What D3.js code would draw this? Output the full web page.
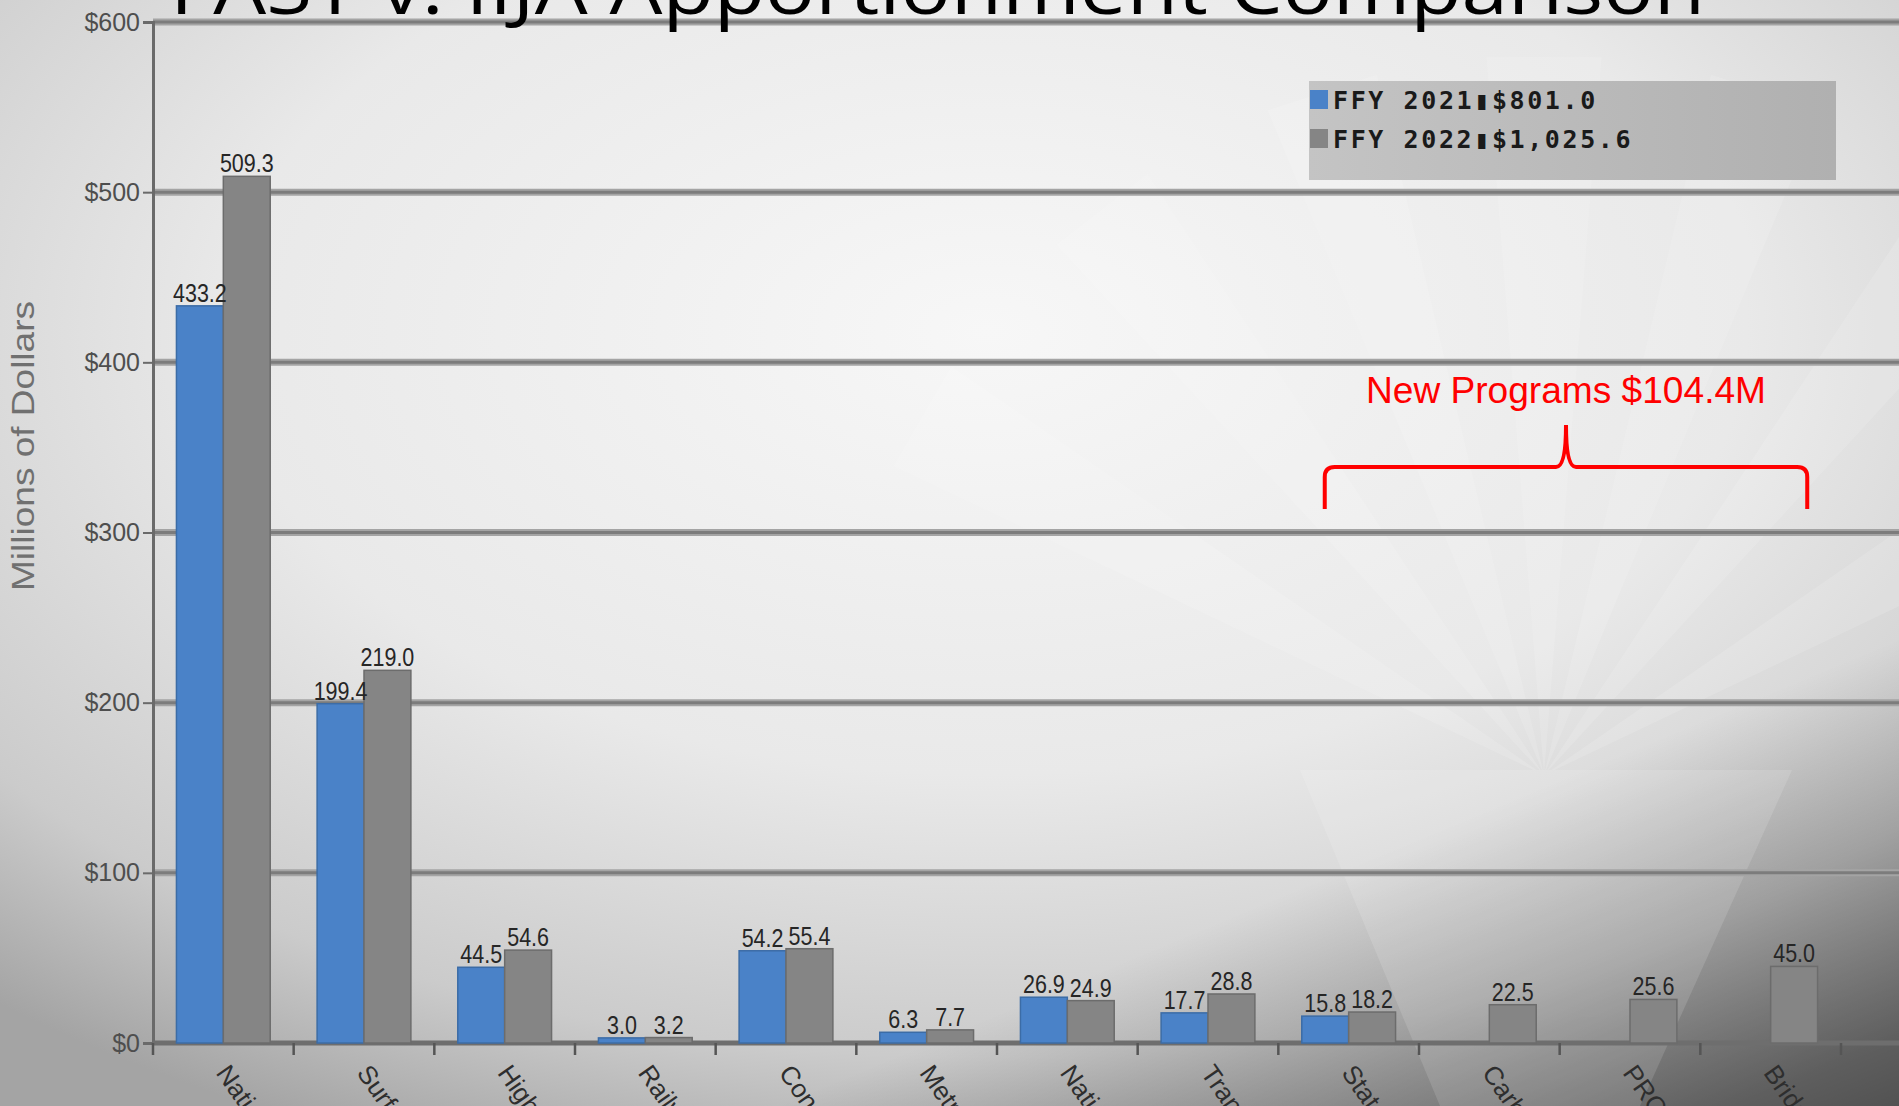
<!DOCTYPE html>
<html>
<head>
<meta charset="utf-8">
<script src="https://cdn.jsdelivr.net/npm/d3@7"></script>
<style>
  html, body { margin: 0; padding: 0; overflow: hidden; background: #ddd; }
  svg { display: block; }
</style>
</head>
<body>
<script>
// Chart data.
var categories = [
  "National Highway Performance", "Surface Transportation Block Grant", "Highway Safety Improvement",
  "Railway-Highway Crossings", "Congestion Mitigation & Air Quality", "Metropolitan Planning",
  "National Highway Freight", "Transportation Alternatives", "State Planning & Research",
  "Carbon Reduction", "PROTECT", "Bridge Formula"
];
var ffy2021 = [433.2, 199.4, 44.5, 3.0, 54.2, 6.3, 26.9, 17.7, 15.8, null, null, null];
var ffy2022 = [509.3, 219.0, 54.6, 3.2, 55.4, 7.7, 24.9, 28.8, 18.2, 22.5, 25.6, 45.0];
var seriesNames = ["FFY 2021", "FFY 2022"];
var seriesTotals = ["$801.0", "$1,025.6"];
var yTicks = [0, 100, 200, 300, 400, 500, 600];
var titleText = "FAST v. IIJA Apportionment Comparison";
var annotationText = "New Programs $104.4M";

(function () {
  var W = 1899, H = 1106;
  var colors = { "FFY 2021": "#4a82c8", "FFY 2022": "#858585" };
  var strokes = { "FFY 2021": "#3c6ca6", "FFY 2022": "#6c6c6c" };
  var sans = "'Liberation Sans', Arial, sans-serif";

  var svg = d3.select("body").append("svg")
    .attr("width", W)
    .attr("height", H);

  // Background gradients.
  var defs = svg.append("defs");
  var rg = defs.append("radialGradient")
    .attr("id", "bg")
    .attr("cx", "0.52").attr("cy", "0.3").attr("r", "0.8");
  rg.append("stop").attr("offset", "0").attr("stop-color", "#f7f7f7");
  rg.append("stop").attr("offset", "0.5").attr("stop-color", "#e9e9e9");
  rg.append("stop").attr("offset", "0.82").attr("stop-color", "#cbcbcb");
  rg.append("stop").attr("offset", "1").attr("stop-color", "#a4a4a4");

  var lg = defs.append("linearGradient")
    .attr("id", "shade")
    .attr("x1", "0.8").attr("y1", "0.72").attr("x2", "1").attr("y2", "1");
  lg.append("stop").attr("offset", "0").attr("stop-color", "#000").attr("stop-opacity", 0);
  lg.append("stop").attr("offset", "1").attr("stop-color", "#000").attr("stop-opacity", 0.5);

  var legG = defs.append("linearGradient")
    .attr("id", "legbg")
    .attr("x1", "0").attr("x2", "1");
  legG.append("stop").attr("offset", "0").attr("stop-color", "#c4c4c4");
  legG.append("stop").attr("offset", "1").attr("stop-color", "#b0b0b0");

  svg.append("rect").attr("width", W).attr("height", H).attr("fill", "url(#bg)");
  svg.append("rect").attr("width", W).attr("height", H).attr("fill", "url(#shade)");

  // Faint starburst in the lower right.
  var cx = 1544, cy = 775;
  var rays = [-150, -128, -108, -90, -72, -52, -30];
  var burst = svg.append("g").attr("opacity", 0.13);
  rays.forEach(function (a) {
    var r = a * Math.PI / 180, w = 0.08, len = 720;
    var p1 = [cx + len * Math.cos(r - w), cy + len * Math.sin(r - w)];
    var p2 = [cx + len * Math.cos(r + w), cy + len * Math.sin(r + w)];
    burst.append("path")
      .attr("d", "M" + cx + "," + cy + "L" + p1 + "L" + p2 + "Z")
      .attr("fill", "#ffffff");
  });
  burst.append("path")
    .attr("d", "M1300,770 L1792,770 L1640,1106 L1440,1106 Z")
    .attr("fill", "#ffffff");

  // Scales.
  var x0 = 153, x1 = 1841, yTop = 22, yBottom = 1043;
  var x = d3.scaleBand().domain(categories).range([x0, x1]);
  var xs = d3.scaleBand().domain(seriesNames).range([0, x.bandwidth()]).paddingOuter(0.5);
  var y = d3.scaleLinear().domain([0, 600]).range([yBottom, yTop]);

  // Gridlines (soft edge + darker core).
  var grid = svg.append("g");
  var gv = yTicks.filter(function (d) { return d > 0; });
  [["#a4a4a4", 7], ["#7c7c7c", 3]].forEach(function (st) {
    grid.selectAll(null)
      .data(gv)
      .enter().append("line")
      .attr("x1", x0).attr("x2", W)
      .attr("y1", function (d) { return y(d); }).attr("y2", function (d) { return y(d); })
      .attr("stroke", st[0]).attr("stroke-width", st[1]);
  });

  // Y axis.
  var yAxis = svg.append("g")
    .attr("transform", "translate(" + x0 + ",0)")
    .call(d3.axisLeft(y).tickValues(yTicks).tickSize(10).tickPadding(3)
      .tickFormat(function (d) { return "$" + d; }));
  yAxis.select(".domain").attr("stroke", "#6a6a6a").attr("stroke-width", 3);
  yAxis.selectAll(".tick line").attr("stroke", "#6a6a6a").attr("stroke-width", 2);
  yAxis.selectAll("text")
    .attr("fill", "#4e4e4e").style("font-family", sans).style("font-size", "25px");

  // Bottom axis line + ticks.
  svg.append("line")
    .attr("x1", x0).attr("x2", W).attr("y1", yBottom).attr("y2", yBottom)
    .attr("stroke", "#6e6e6e").attr("stroke-width", 5);
  var bounds = categories.map(function (c) { return x(c); }).concat([x1]);
  svg.append("g").selectAll("line")
    .data(bounds).enter().append("line")
    .attr("x1", function (d) { return d; }).attr("x2", function (d) { return d; })
    .attr("y1", yBottom).attr("y2", yBottom + 12)
    .attr("stroke", "#555").attr("stroke-width", 2.5);

  // Category labels (rotated, clipped by page bottom).
  svg.append("g").selectAll("text")
    .data(categories).enter().append("text")
    .attr("transform", function (d) {
      return "translate(" + (x(d) + x.bandwidth() / 2 - 8) + "," + (yBottom + 30) + ") rotate(55)";
    })
    .attr("fill", "#2e2e2e")
    .style("font-family", sans)
    .style("font-size", "26px")
    .text(function (d) { return d; });

  // Bars.
  var rows = [];
  categories.forEach(function (c, i) {
    [ffy2021[i], ffy2022[i]].forEach(function (v, k) {
      if (v !== null) rows.push({ cat: c, series: seriesNames[k], value: v });
    });
  });

  svg.append("g").selectAll("rect")
    .data(rows).enter().append("rect")
    .attr("x", function (d) { return x(d.cat) + xs(d.series); })
    .attr("y", function (d) { return y(d.value); })
    .attr("width", xs.bandwidth())
    .attr("height", function (d) { return y(0) - y(d.value); })
    .attr("fill", function (d) { return colors[d.series]; })
    .attr("stroke", function (d) { return strokes[d.series]; })
    .attr("stroke-width", 1.5);

  // Data labels (slightly condensed).
  svg.append("g").selectAll("text")
    .data(rows).enter().append("text")
    .attr("transform", function (d) {
      return "translate(" + (x(d.cat) + xs(d.series) + xs.bandwidth() / 2) + "," + (y(d.value) - 4) + ") scale(0.86,1)";
    })
    .attr("text-anchor", "middle")
    .attr("fill", "#262626")
    .style("font-family", sans)
    .style("font-size", "25px")
    .text(function (d) { return d.value.toFixed(1); });

  // Y axis title.
  svg.append("text")
    .attr("transform", "translate(34,446) rotate(-90)")
    .attr("text-anchor", "middle")
    .attr("fill", "#707070")
    .attr("textLength", 290)
    .attr("lengthAdjust", "spacingAndGlyphs")
    .style("font-family", sans)
    .style("font-size", "32px")
    .text("Millions of Dollars");

  // Title (top clipped like the slide).
  svg.append("text")
    .attr("x", 170).attr("y", 14)
    .attr("textLength", 1535)
    .attr("lengthAdjust", "spacingAndGlyphs")
    .attr("fill", "#000")
    .style("font-family", "'Open Sans', sans-serif")
    .style("font-size", "74px")
    .text(titleText);

  // Legend.
  var leg = svg.append("g").attr("transform", "translate(1309,81)");
  leg.append("rect").attr("width", 527).attr("height", 99).attr("fill", "url(#legbg)");
  seriesNames.forEach(function (s, i) {
    var row = leg.append("g").attr("transform", "translate(0," + (i * 39) + ")");
    row.append("rect").attr("x", 1).attr("y", 9).attr("width", 18).attr("height", 19)
      .attr("fill", colors[s]);
    var t = row.append("text").attr("x", 24).attr("y", 28)
      .attr("fill", "#1a1a1a")
      .style("font-family", "'DejaVu Sans Mono', monospace")
      .style("font-weight", "bold")
      .style("font-size", "25px")
      .style("letter-spacing", "2.6px");
    t.append("tspan").text(s);
    t.append("tspan").text("\u25AE");
    t.append("tspan").text(seriesTotals[i]);
  });

  // New programs annotation with brace.
  var bl = x(categories[8]) + x.bandwidth() * 0.33;
  var br = x(categories[11]) + x.bandwidth() * 0.76;
  var bm = (bl + br) / 2;
  var yb = 509, yh = 467, yp = 425, r = 10;
  svg.append("path")
    .attr("d",
      "M" + bl + "," + yb +
      " L" + bl + "," + (yh + r) +
      " Q" + bl + "," + yh + " " + (bl + r) + "," + yh +
      " L" + (bm - 10) + "," + yh +
      " Q" + bm + "," + yh + " " + bm + "," + yp +
      " Q" + bm + "," + yh + " " + (bm + 10) + "," + yh +
      " L" + (br - r) + "," + yh +
      " Q" + br + "," + yh + " " + br + "," + (yh + r) +
      " L" + br + "," + yb)
    .attr("fill", "none").attr("stroke", "#ff0000").attr("stroke-width", 4);
  svg.append("text")
    .attr("x", bm).attr("y", 403)
    .attr("text-anchor", "middle")
    .attr("fill", "#ff0000")
    .attr("textLength", 400)
    .attr("lengthAdjust", "spacingAndGlyphs")
    .style("font-family", sans)
    .style("font-size", "37px")
    .text(annotationText);
})();
</script>
</body>
</html>
